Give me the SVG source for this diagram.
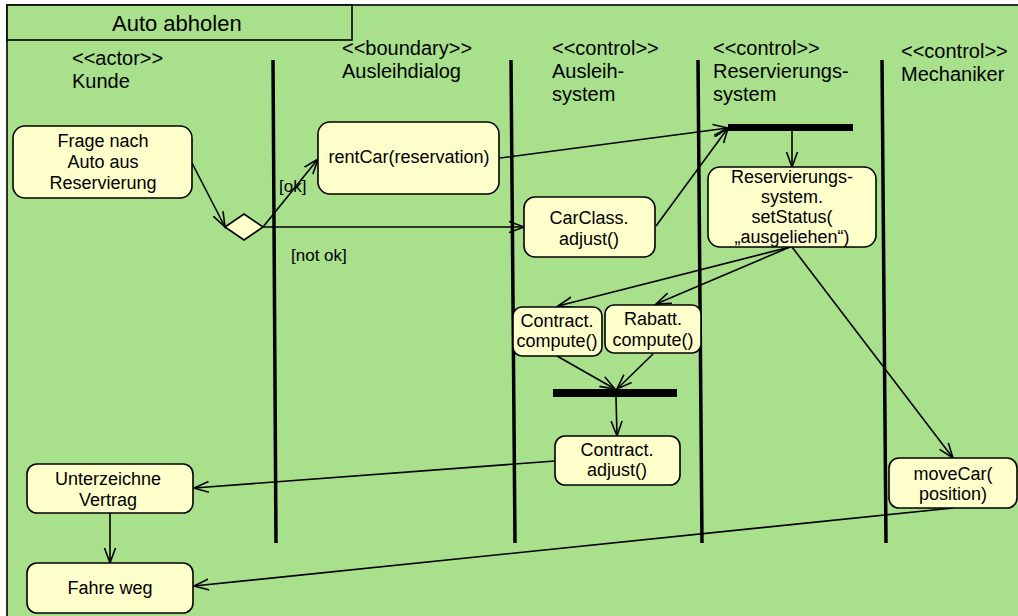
<svg xmlns="http://www.w3.org/2000/svg" width="1018" height="616" viewBox="0 0 1018 616">
<style>
  text { font-family: "Liberation Sans", Arial, sans-serif; fill: #000; }
  .hdr { font-size: 20px; }
  .title { font-size: 22px; }
  .nt { font-size: 18px; text-anchor: middle; }
  .lbl { font-size: 17px; }
  .node { fill: #ffffcc; stroke: #000; stroke-width: 1.6; }
  .lane { stroke: #000; stroke-width: 3.5; fill: none; }
  .edge { stroke: #000; stroke-width: 1.6; fill: none; marker-end: url(#arr); }
</style>
<defs>
  <marker id="arr" markerUnits="userSpaceOnUse" markerWidth="18" markerHeight="14" refX="15" refY="6" orient="auto" viewBox="0 0 18 12">
    <path d="M0,0.5 L15,6 L0,11.5" fill="none" stroke="#000" stroke-width="1.6"/>
  </marker>
</defs>
<rect x="0" y="0" width="1018" height="616" fill="#ffffff"/>
<g id="frame">
  <rect x="7" y="5" width="1020" height="620" fill="#a8e08c" stroke="#000" stroke-width="1.6"/>
  <rect x="7" y="5" width="345" height="35" fill="#a8e08c" stroke="#000" stroke-width="1.6"/>
  <text class="title" x="112" y="31">Auto abholen</text>
</g>
<g id="lanes">
  <line class="lane" x1="273" y1="60" x2="276" y2="543"/>
  <line class="lane" x1="511" y1="60" x2="515" y2="543"/>
  <line class="lane" x1="698" y1="60" x2="702" y2="543"/>
  <line class="lane" x1="882" y1="60" x2="886" y2="543"/>
  <text class="hdr" x="72" y="65">&lt;&lt;actor&gt;&gt;</text>
  <text class="hdr" x="72" y="88">Kunde</text>
  <text class="hdr" x="342" y="55">&lt;&lt;boundary&gt;&gt;</text>
  <text class="hdr" x="342" y="78">Ausleihdialog</text>
  <text class="hdr" x="552" y="55">&lt;&lt;control&gt;&gt;</text>
  <text class="hdr" x="552" y="78">Ausleih-</text>
  <text class="hdr" x="552" y="101">system</text>
  <text class="hdr" x="713" y="55">&lt;&lt;control&gt;&gt;</text>
  <text class="hdr" x="713" y="78">Reservierungs-</text>
  <text class="hdr" x="713" y="101">system</text>
  <text class="hdr" x="901" y="58">&lt;&lt;control&gt;&gt;</text>
  <text class="hdr" x="901" y="81">Mechaniker</text>
</g>
<g id="connectors">
  <line class="edge" x1="192" y1="163" x2="225" y2="227"/>
  <line class="edge" x1="263" y1="227" x2="318" y2="159"/>
  <line class="edge" x1="263" y1="227" x2="524" y2="227"/>
  <line class="edge" x1="500" y1="158" x2="728" y2="128"/>
  <line class="edge" x1="656" y1="226" x2="728" y2="128"/>
  <line class="edge" x1="792" y1="131" x2="792" y2="167"/>
  <line class="edge" x1="790" y1="247" x2="558" y2="306"/>
  <line class="edge" x1="790" y1="247" x2="656" y2="304"/>
  <line class="edge" x1="792" y1="247" x2="953" y2="458"/>
  <line class="edge" x1="557" y1="356" x2="615" y2="389"/>
  <line class="edge" x1="653" y1="354" x2="617" y2="389"/>
  <line class="edge" x1="616" y1="397" x2="617" y2="436"/>
  <line class="edge" x1="555" y1="461" x2="194" y2="488"/>
  <line class="edge" x1="110" y1="513" x2="110" y2="563"/>
  <line class="edge" x1="953" y1="508" x2="194" y2="586"/>
  <text class="lbl" x="279" y="192">[ok]</text>
  <text class="lbl" x="291" y="261">[not ok]</text>
</g>
<g id="n-frage">
  <rect class="node" x="13" y="126" width="179" height="72" rx="12"/>
  <text class="nt" x="103" y="147">Frage nach</text>
  <text class="nt" x="103" y="168">Auto aus</text>
  <text class="nt" x="103" y="189">Reservierung</text>
</g>
<g id="n-decision">
  <polygon points="225,227 244,214 263,227 244,240" fill="#ffffcc" stroke="#000" stroke-width="1.6"/>
</g>
<g id="n-rentcar">
  <rect class="node" x="318" y="122" width="181" height="72" rx="12"/>
  <text class="nt" x="409" y="163">rentCar(reservation)</text>
</g>
<g id="n-carclass">
  <rect class="node" x="524" y="197" width="131" height="60" rx="11"/>
  <text class="nt" x="589" y="224">CarClass.</text>
  <text class="nt" x="589" y="245">adjust()</text>
</g>
<g id="n-fork1">
  <rect x="728" y="124" width="125" height="7" fill="#000"/>
</g>
<g id="n-setstatus">
  <rect class="node" x="708" y="167" width="168" height="80" rx="12"/>
  <text class="nt" x="792" y="183">Reservierungs-</text>
  <text class="nt" x="792" y="203">system.</text>
  <text class="nt" x="792" y="223">setStatus(</text>
  <text class="nt" x="792" y="243">„ausgeliehen“)</text>
</g>
<g id="n-contractcompute">
  <rect class="node" x="513" y="307" width="89" height="49" rx="9"/>
  <text class="nt" x="557" y="327">Contract.</text>
  <text class="nt" x="557" y="347">compute()</text>
</g>
<g id="n-rabattcompute">
  <rect class="node" x="605" y="305" width="96" height="48" rx="9"/>
  <text class="nt" x="653" y="325">Rabatt.</text>
  <text class="nt" x="653" y="346">compute()</text>
</g>
<g id="n-join2">
  <rect x="553" y="389" width="124" height="8" fill="#000"/>
</g>
<g id="n-contractadjust">
  <rect class="node" x="555" y="436" width="125" height="49" rx="10"/>
  <text class="nt" x="617" y="456">Contract.</text>
  <text class="nt" x="617" y="476">adjust()</text>
</g>
<g id="n-unterzeichne">
  <rect class="node" x="27" y="464" width="166" height="49" rx="10"/>
  <text class="nt" x="108" y="485">Unterzeichne</text>
  <text class="nt" x="108" y="506">Vertrag</text>
</g>
<g id="n-fahre">
  <rect class="node" x="27" y="563" width="166" height="50" rx="10"/>
  <text class="nt" x="110" y="594">Fahre weg</text>
</g>
<g id="n-movecar">
  <rect class="node" x="889" y="458" width="128" height="50" rx="10"/>
  <text class="nt" x="953" y="480">moveCar(</text>
  <text class="nt" x="953" y="500">position)</text>
</g>
</svg>
